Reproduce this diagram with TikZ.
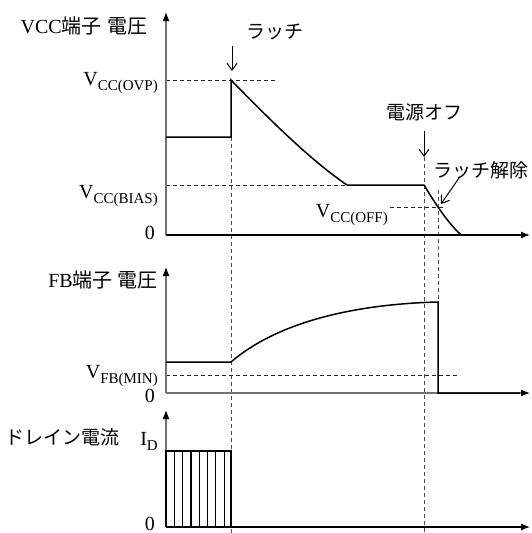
\documentclass[tikz,border=0pt]{standalone}
\usepackage{fontspec}
\setmainfont{Liberation Serif}
\newfontfamily\jp{Noto Sans CJK JP}
\usetikzlibrary{arrows.meta}
\newcommand{\lsub}[1]{\raisebox{-5.5pt}{\fontsize{15}{15}\selectfont #1}}
\begin{document}
\begin{tikzpicture}[x=1pt,y=-1pt,
  axis/.style={line width=1.2pt,draw=black!55,-{Latex[length=9pt,width=7pt,color=black]}},
  axisk/.style={line width=1.2pt,draw=black,-{Latex[length=9pt,width=7pt]}},
  wave/.style={line width=1.5pt,black,line join=miter},
  hdash/.style={line width=0.8pt,black!85,dash pattern=on 4pt off 3pt},
  vdash/.style={line width=0.8pt,black!70,dash pattern=on 4pt off 3pt},
  note/.style={line width=1pt,-{Straight Barb[length=7pt,width=10pt]}},
  lbl/.style={inner sep=0pt,font=\fontsize{20}{20}\selectfont},
  jlbl/.style={inner sep=0pt,font=\fontsize{19}{19}\selectfont\jp}]
\useasboundingbox (0,0) rectangle (531,533);

% ---------- vertical dashed markers ----------
\draw[vdash] (231,137) -- (231,540);
\draw[vdash] (424,157) -- (424,540);
\draw[vdash] (438,190) -- (438,302);

% ---------- VCC graph ----------
\draw[hdash] (166,80) -- (277,80);
\draw[hdash] (166,185) -- (347,185);
\draw[hdash] (390,207) -- (446,207);
\draw[axis] (166,235) -- (166,12);
\draw[axisk] (166,235) -- (530,235);
\draw[wave] (166,137) -- (231,137) -- (231,80)
  .. controls (265,115) and (310,160) .. (347,185) -- (424,185)
  .. controls (432,198) and (445,220) .. (461,235) -- (520,235);

\node[lbl,anchor=base east] (vcct) at (148,33) {VCC{\jp 端子\hspace{6pt}電圧}};
\node[lbl,anchor=base east] (ovp) at (158,85) {V\lsub{CC(OVP)}};
\node[lbl,anchor=base east] (bias) at (158,198) {V\lsub{CC(BIAS)}};
\node[lbl,anchor=base east] (off) at (388,217) {V\lsub{CC(OFF)}};
\node[lbl,anchor=base east] (z1) at (155,239) {0};

\node[jlbl] (latch) at (275,32) {ラッチ};
\coordinate (latchs) at (232,46);
\coordinate (latche) at (232,71);
\draw[note] (latchs) -- (latche);

\node[jlbl] (poff) at (424,112) {電源オフ};
\coordinate (poffs) at (424,131);
\coordinate (poffe) at (424,157);
\draw[note] (poffs) -- (poffe);

\node[jlbl] (rel) at (481,170) {ラッチ解除};
\coordinate (rels) at (459,178);
\coordinate (rele) at (441,204);
\draw[note] (rels) -- (rele);

% ---------- FB graph ----------
\draw[hdash] (166,375) -- (460,375);
\draw[axis] (166,393) -- (166,267);
\draw[axis] (166,393) -- (530,393);
\draw[wave] (166,362) -- (231,362)
  .. controls (280,320) and (360,304) .. (438,302) -- (438,393) -- (520,393);

\node[lbl,anchor=base east] (fbt) at (158,287) {FB{\jp 端子\hspace{5pt}電圧}};
\node[lbl,anchor=base east] (fbmin) at (158,378) {V\lsub{FB(MIN)}};
\node[lbl,anchor=base east] (z2) at (155,402) {0};

% ---------- ID graph ----------
\draw[axis] (166,527) -- (166,410);
\draw[axisk] (166,527) -- (530,527);
\draw[line width=1.3pt] (166,527) -- (166,451) -- (231,451) -- (231,527);
\foreach \k in {1,...,7} {
  \draw[line width=1.2pt] (166+8.3*\k,451) -- (166+8.3*\k,527);
}
\node[jlbl,anchor=base east] (idt) at (120,444) {ドレイン電流};
\node[lbl,anchor=base east] (id) at (158,445) {I\lsub{D}};
\node[lbl,anchor=base east] (z3) at (155,530) {0};
\end{tikzpicture}
\end{document}
